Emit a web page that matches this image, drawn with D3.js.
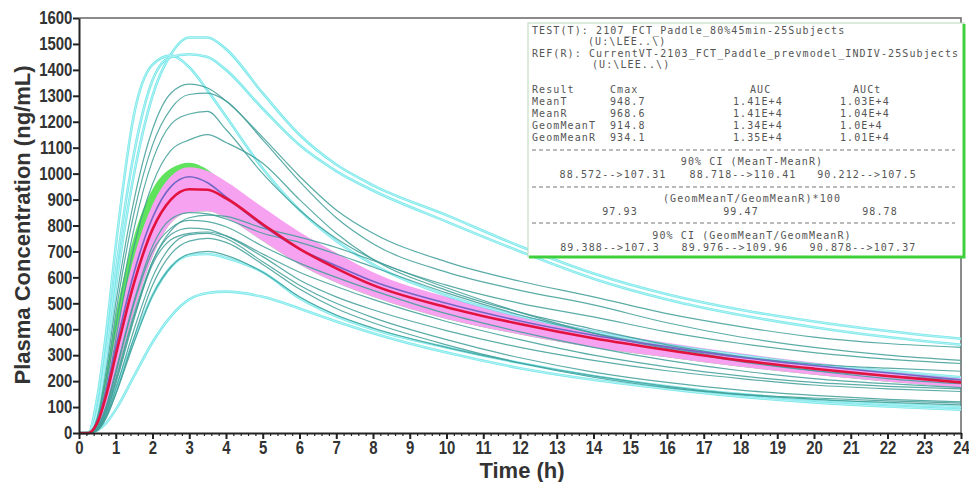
<!DOCTYPE html>
<html>
<head>
<meta charset="utf-8">
<script src="https://cdn.jsdelivr.net/npm/d3@7"></script>
<style>
body { margin: 0; background: #fff; }
svg { display: block; }
.tk text { font-family: "Liberation Sans", Arial, sans-serif; font-weight: bold; fill: #333; }
.box text { font-family: "DejaVu Sans Mono", monospace; font-size: 10px; fill: #555; letter-spacing: 1.1px; }
</style>
</head>
<body>
<svg width="969" height="482"></svg>
<script>
// sampling times (h)
const times = [0, 0.25, 0.5, 0.75, 1, 1.5, 2, 2.5, 3, 3.5, 4, 5, 6, 7, 8, 10, 12, 14, 16, 18, 20, 22, 24];

// individual subjects, bright cyan
const cyanCurves = [
    [0, 0, 80, 300, 560, 1000, 1300, 1460, 1525, 1525, 1480, 1310, 1150, 1035, 955, 840, 720, 615, 535, 475, 430, 393, 363],
    [0, 0, 90, 330, 620, 1080, 1360, 1450, 1460, 1450, 1400, 1250, 1110, 1010, 935, 815, 700, 595, 515, 455, 408, 370, 340],
    [0, 0, 140, 400, 720, 1230, 1420, 1455, 1410, 1320, 1220, 1020, 860, 740, 650, 530, 450, 390, 340, 300, 265, 240, 215],
    [0, 0, 10, 40, 90, 220, 350, 450, 515, 540, 545, 525, 480, 430, 385, 310, 250, 205, 170, 140, 118, 102, 90],
    [0, 0, 20, 80, 170, 360, 530, 640, 685, 690, 675, 620, 520, 450, 400, 330, 270, 220, 180, 150, 128, 112, 100]
];

// individual subjects, darker teal
const tealCurves = [
    [0, 0, 60, 250, 500, 900, 1170, 1310, 1345, 1330, 1280, 1140, 990, 860, 770, 660, 585, 525, 460, 410, 370, 345, 330],
    [0, 0, 50, 220, 460, 850, 1110, 1250, 1305, 1310, 1280, 1130, 970, 830, 730, 620, 550, 494, 425, 370, 330, 300, 280],
    [0, 0, 40, 190, 410, 790, 1050, 1190, 1230, 1240, 1170, 1000, 860, 750, 670, 570, 500, 448, 390, 345, 310, 285, 268],
    [0, 0, 30, 160, 360, 720, 960, 1090, 1130, 1150, 1120, 1040, 900, 770, 670, 550, 465, 400, 340, 295, 265, 250, 238],
    [0, 0, 25, 110, 240, 510, 720, 825, 850, 845, 825, 770, 735, 690, 640, 540, 455, 385, 330, 280, 240, 210, 190],
    [0, 0, 15, 80, 190, 440, 660, 780, 830, 840, 835, 790, 755, 715, 665, 560, 465, 385, 325, 275, 240, 220, 205],
    [0, 0, 20, 100, 230, 500, 700, 790, 820, 815, 795, 720, 655, 600, 550, 460, 390, 330, 280, 240, 210, 190, 175],
    [0, 0, 15, 85, 200, 450, 650, 745, 770, 775, 760, 690, 620, 565, 515, 430, 360, 300, 255, 220, 195, 180, 170],
    [0, 0, 20, 95, 210, 460, 660, 765, 790, 785, 760, 680, 590, 525, 475, 395, 330, 280, 240, 210, 185, 170, 160],
    [0, 0, 10, 70, 170, 400, 600, 720, 765, 770, 750, 660, 570, 500, 445, 360, 290, 235, 195, 165, 145, 130, 120],
    [0, 0, 10, 60, 150, 370, 570, 690, 740, 750, 735, 650, 555, 480, 425, 340, 270, 215, 175, 148, 130, 118, 108],
    [0, 0, 12, 65, 150, 350, 530, 640, 690, 700, 685, 620, 525, 455, 405, 330, 270, 220, 180, 150, 135, 124, 115]
];

const meanT = [0, 0, 40, 150, 300, 580, 785, 900, 940, 938, 905, 805, 710, 635, 570, 485, 420, 365, 320, 280, 248, 220, 195];
const meanR = [0, 0, 45, 170, 330, 620, 830, 950, 988, 965, 910, 800, 710, 645, 585, 500, 432, 377, 332, 292, 260, 232, 205];
const ciLow = [0, 0, 25, 100, 220, 470, 680, 810, 850, 855, 830, 740, 650, 580, 525, 440, 380, 330, 292, 255, 225, 198, 175];
const ciHigh = [0, 5, 55, 200, 380, 680, 880, 990, 1025, 1010, 970, 870, 775, 695, 620, 525, 455, 395, 348, 307, 272, 242, 215];
const refHigh = [0, 8, 70, 240, 450, 760, 940, 1020, 1042, 1015, 955, 840, 745, 665, 595, 505, 440, 380, 335, 295, 262, 232, 200];

const xTicks = [0, 1, 2, 3, 4, 5, 6, 7, 8, 9, 10, 11, 12, 13, 14, 15, 16, 17, 18, 19, 20, 21, 22, 23, 24];
const yTicks = [0, 100, 200, 300, 400, 500, 600, 700, 800, 900, 1000, 1100, 1200, 1300, 1400, 1500, 1600];

// stats box text
const testLine = 'TEST(T): 2107_FCT_Paddle_80%45min-25Subjects';
const refLine = 'REF(R): CurrentVT-2103_FCT_Paddle_prevmodel_INDIV-25Subjects';
const pathLine = '(U:\\LEE..\\)';
const statCols = ['Result', 'Cmax', 'AUC', 'AUCt'];
const statRows = [
    ['MeanT', '948.7', '1.41E+4', '1.03E+4'],
    ['MeanR', '968.6', '1.41E+4', '1.04E+4'],
    ['GeomMeanT', '914.8', '1.34E+4', '1.0E+4'],
    ['GeomMeanR', '934.1', '1.35E+4', '1.01E+4']
];
const sectionTitles = ['90% CI (MeanT-MeanR)', '(GeomMeanT/GeomMeanR)*100', '90% CI (GeomMeanT/GeomMeanR)'];
const sectionValues = [
    ['88.572-->107.31', '88.718-->110.41', '90.212-->107.5'],
    ['97.93', '99.47', '98.78'],
    ['89.388-->107.3', '89.976-->109.96', '90.878-->107.37']
];

const svg = d3.select('svg');
const margin = {top: 18, right: 8, bottom: 49, left: 79};
const width = +svg.attr('width') - margin.left - margin.right;
const height = +svg.attr('height') - margin.top - margin.bottom;

const xScale = d3.scaleLinear().domain([0, 24]).range([0, width]);
const yScale = d3.scaleLinear().domain([0, 1600]).range([height, 0]);

const g = svg.append('g')
    .attr('transform', `translate(${margin.left},${margin.top})`);

const toPts = arr => arr.map((v, i) => [times[i], v]);

const line = d3.line()
    .x(d => xScale(d[0]))
    .y(d => yScale(d[1]))
    .curve(d3.curveMonotoneX);

const band = (lo, hi) => d3.area()
    .x((d, i) => xScale(times[i]))
    .y0((d, i) => yScale(lo[i]))
    .y1((d, i) => yScale(hi[i]))
    .curve(d3.curveMonotoneX)(times);

// frame top/right
g.append('path')
    .attr('d', `M0,0H${width}V${height}`)
    .attr('fill', 'none')
    .attr('stroke', '#666')
    .attr('stroke-width', 1.5);

// bands
g.append('path').attr('d', band(ciLow, refHigh)).attr('fill', '#5fe35c');
g.append('path').attr('d', band(ciLow, ciHigh)).attr('fill', '#f6a2f1');

g.selectAll('.cyan').data(cyanCurves)
    .enter().append('path')
        .attr('class', 'cyan')
        .attr('d', d => line(toPts(d)))
        .attr('fill', 'none')
        .attr('stroke', '#66e4e7')
        .attr('stroke-width', 2.6)
        .attr('opacity', 0.85);
// lighter core gives the doubled look of the cyan traces
g.selectAll('.cyanCore').data(cyanCurves)
    .enter().append('path')
        .attr('class', 'cyanCore')
        .attr('d', d => line(toPts(d)))
        .attr('fill', 'none')
        .attr('stroke', '#c9f6f7')
        .attr('stroke-width', 0.7);

g.selectAll('.teal').data(tealCurves)
    .enter().append('path')
        .attr('class', 'teal')
        .attr('d', d => line(toPts(d)))
        .attr('fill', 'none')
        .attr('stroke', '#3e9e98')
        .attr('stroke-width', 1.2)
        .attr('opacity', 0.85);

g.append('path')
    .attr('d', line(toPts(meanR)))
    .attr('fill', 'none')
    .attr('stroke', '#7466c6')
    .attr('stroke-width', 1.6);

g.append('path')
    .attr('d', line(toPts(meanT)))
    .attr('fill', 'none')
    .attr('stroke', '#e2133f')
    .attr('stroke-width', 2.6);

// axes
const xMinor = g.append('g').attr('class', 'tk')
    .attr('transform', `translate(0,${height})`)
    .call(d3.axisBottom(xScale).tickValues(d3.range(0, 24.01, 0.2)).tickSize(3).tickFormat(''));
xMinor.select('.domain').remove();
xMinor.selectAll('line').attr('stroke', '#222').attr('stroke-width', 1.2);

const xAxisG = g.append('g').attr('class', 'tk')
    .attr('transform', `translate(0,${height})`)
    .call(d3.axisBottom(xScale).tickValues(xTicks).tickSize(6).tickPadding(2).tickSizeOuter(0));
xAxisG.selectAll('line, path').attr('stroke', '#222').attr('stroke-width', 2);
xAxisG.selectAll('text')
    .attr('font-size', 18)
    .attr('transform', 'scale(0.83,1)');

const yAxisG = g.append('g').attr('class', 'tk')
    .call(d3.axisLeft(yScale).tickValues(yTicks).tickFormat(d3.format('d'))
        .tickSize(6).tickPadding(2).tickSizeOuter(0));
yAxisG.selectAll('line, path').attr('stroke', '#222').attr('stroke-width', 2);
yAxisG.selectAll('text')
    .attr('font-size', 18)
    .attr('transform', 'scale(0.83,1)');

g.append('text')
    .attr('x', width / 2 + 2)
    .attr('y', height + 45)
    .attr('text-anchor', 'middle')
    .attr('font-family', '"Liberation Sans", Arial, sans-serif')
    .attr('font-weight', 'bold')
    .attr('font-size', 22)
    .attr('fill', '#333')
    .text('Time (h)');

svg.append('text')
    .attr('transform', 'translate(30,225) rotate(-90)')
    .attr('text-anchor', 'middle')
    .attr('font-family', '"Liberation Sans", Arial, sans-serif')
    .attr('font-weight', 'bold')
    .attr('font-size', 22)
    .attr('fill', '#333')
    .text('Plasma Concentration (ng/mL)');

// stats box
const box = svg.append('g').attr('class', 'box');
box.append('rect')
    .attr('x', 528).attr('y', 23)
    .attr('width', 436).attr('height', 234)
    .attr('fill', '#fff')
    .attr('stroke', '#b7d9b7')
    .attr('stroke-width', 1);
box.append('path')
    .attr('d', 'M964,24V257H529')
    .attr('fill', 'none')
    .attr('stroke', '#3fcf3c')
    .attr('stroke-width', 3);

box.append('text').attr('x', 532).attr('y', 34).text(testLine);
box.append('text').attr('x', 588).attr('y', 45).text(pathLine);
box.append('text').attr('x', 532).attr('y', 57).text(refLine);
box.append('text').attr('x', 592).attr('y', 68).text(pathLine);

const headX = [532, 610, 750, 853];
const colX = [532, 610, 733, 840];
box.selectAll('.hd').data(statCols)
    .enter().append('text')
        .attr('x', (d, i) => headX[i])
        .attr('y', 93)
        .text(d => d);
statRows.forEach((row, r) => {
    box.selectAll(null).data(row)
        .enter().append('text')
            .attr('x', (d, i) => colX[i])
            .attr('y', 105 + r * 12)
            .text(d => d);
});

const dashY = [150, 187, 223];
const titleY = [165, 202, 239];
const valueY = [178, 215, 251];
const valueX = [
    [613, 743, 867],
    [620, 741, 880],
    [610, 735, 863]
];
dashY.forEach(yy => {
    box.append('line')
        .attr('x1', 532).attr('x2', 955)
        .attr('y1', yy).attr('y2', yy)
        .attr('stroke', '#777')
        .attr('stroke-dasharray', '4,3');
});
sectionTitles.forEach((t, s) => {
    box.append('text')
        .attr('x', 752).attr('y', titleY[s])
        .attr('text-anchor', 'middle')
        .text(t);
    box.selectAll(null).data(sectionValues[s])
        .enter().append('text')
            .attr('x', (d, i) => valueX[s][i])
            .attr('y', valueY[s])
            .attr('text-anchor', 'middle')
            .text(d => d);
});
</script>
</body>
</html>
